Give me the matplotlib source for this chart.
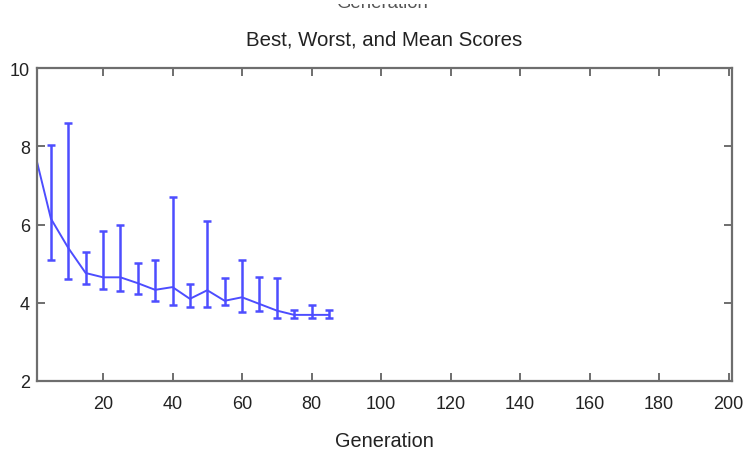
import matplotlib
matplotlib.use("Agg")
import matplotlib.pyplot as plt
from matplotlib.patches import Rectangle

plt.rcParams['font.family'] = ['Liberation Sans', 'DejaVu Sans']

# Data
mean_gens = [1, 5, 10, 15, 20, 25, 30, 35, 40, 45, 50, 55, 60, 65, 70, 75, 80, 85]
mean_scores = [7.6, 6.15, 5.4, 4.76, 4.65, 4.65, 4.50, 4.33, 4.40, 4.10, 4.32, 4.05, 4.14, 3.97, 3.80, 3.69, 3.69, 3.69]

bar_gens = [5, 10, 15, 20, 25, 30, 35, 40, 45, 50, 55, 60, 65, 70, 75, 80, 85]
best_scores = [5.10, 4.60, 4.48, 4.34, 4.31, 4.23, 4.05, 3.95, 3.88, 3.89, 3.94, 3.77, 3.78, 3.60, 3.60, 3.60, 3.60]
worst_scores = [8.04, 8.60, 5.29, 5.84, 6.00, 5.01, 5.10, 6.71, 4.49, 6.08, 4.63, 5.10, 4.65, 4.63, 3.82, 3.94, 3.82]

x_ticks = [20, 40, 60, 80, 100, 120, 140, 160, 180, 200]
y_ticks = [2, 4, 6, 8, 10]

W, H = 743, 452
fig = plt.figure(figsize=(W / 100, H / 100), dpi=100)
ax = fig.add_axes([37 / W, 1 - 382 / H, (732 - 37) / W, (382 - 69) / H])

blue = '#4d4dff'
ax.plot(mean_gens, mean_scores, color=blue, lw=1.4)
ax.vlines(bar_gens, best_scores, worst_scores, color=blue, lw=1.8)
ax.plot(bar_gens, best_scores, ls='none', marker='_', ms=6, mew=1.8, color=blue)
ax.plot(bar_gens, worst_scores, ls='none', marker='_', ms=6, mew=1.8, color=blue)

ax.set_xlim(1, 201)
ax.set_ylim(2, 10)
ax.set_xticks(x_ticks)
ax.set_yticks(y_ticks)
ax.tick_params(direction='in', length=6, width=1.2, color='#555555',
               top=True, right=True, labelsize=13, labelcolor='#222222')
ax.tick_params(axis='x', pad=10)
ax.tick_params(axis='y', pad=5)
for s in ax.spines.values():
    s.set_color('#6e6e6e')
    s.set_linewidth(1.6)

ax.set_title('Best, Worst, and Mean Scores', fontsize=14.7, color='#222222', pad=17)
ax.set_xlabel('Generation', fontsize=14.3, color='#222222', labelpad=14)

# cut-off text from the panel above (only its lower edge shows)
fig.text(382 / W, 1 - 8.5 / H, 'Generation', fontsize=13.4, color='#555555',
         ha='center', va='baseline', zorder=3)
fig.patches.append(Rectangle((0, 1 - 4.5 / H), 1, 4.5 / H, transform=fig.transFigure,
                             facecolor='white', edgecolor='none', zorder=10))

fig.savefig('out.png', dpi=100)
